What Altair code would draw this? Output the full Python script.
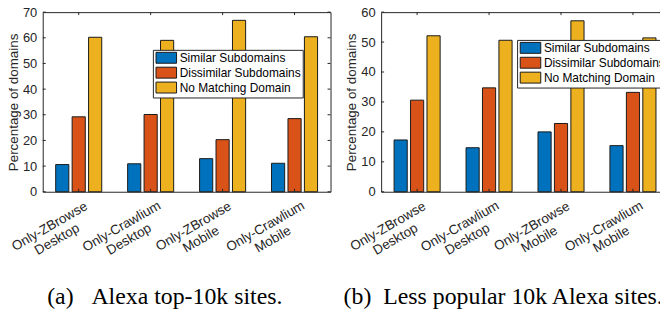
import altair as alt
import pandas as pd

groups = ["Only-ZBrowse\nDesktop", "Only-Crawlium\nDesktop", "Only-ZBrowse\nMobile", "Only-Crawlium\nMobile"]
series = ["Similar Subdomains", "Dissimilar Subdomains", "No Matching Domain"]
colors = ["#0072BD", "#D95319", "#EDB120"]

top10k_similar = [10.6, 10.9, 12.9, 11.1]
top10k_dissimilar = [29.2, 30.1, 20.3, 28.5]
top10k_nomatch = [60.2, 59.0, 66.8, 60.4]

less_similar = [17.3, 14.7, 20.0, 15.4]
less_dissimilar = [30.6, 34.7, 22.8, 33.2]
less_nomatch = [52.1, 50.6, 57.1, 51.4]

yticks_a = [0, 10, 20, 30, 40, 50, 60, 70]
yticks_b = [0, 10, 20, 30, 40, 50, 60]

W, H = 290, 181
TXT = "#262626"
FONT = "Liberation Sans"
NB = "\u00a0"


def make_df(a, b, c):
    rows = []
    for i, g in enumerate(groups):
        for s, v in zip(series, [a[i], b[i], c[i]]):
            rows.append({"group": g, "series": s, "value": v})
    return pd.DataFrame(rows)


def panel(df, yticks, ymax, caption, lx, ly, cdx):
    xscale = alt.Scale(domain=groups, paddingInner=0.36, paddingOuter=0.18)
    yscale = alt.Scale(domain=[0, ymax], nice=False)
    yaxis = alt.Axis(title="Percentage of domains", values=yticks, tickSize=0, domain=False,
                     grid=False, labelPadding=6, labelFontSize=13, labelColor=TXT,
                     labelOverlap=False, labelFont=FONT, titleFont=FONT,
                     titleFontSize=13.5, titleColor=TXT,
                     titleFontWeight="normal", titlePadding=2)
    bars = alt.Chart(df).mark_bar(stroke="#1a1a1a", strokeWidth=1).encode(
        x=alt.X("group:N", scale=xscale, sort=groups, axis=None),
        xOffset=alt.XOffset("series:N", sort=series,
                            scale=alt.Scale(domain=series, paddingInner=0.2, paddingOuter=0)),
        y=alt.Y("value:Q", scale=yscale, axis=yaxis),
        color=alt.Color("series:N", sort=series, scale=alt.Scale(domain=series, range=colors),
                        legend=alt.Legend(title=None, orient="none", legendX=lx, legendY=ly,
                                          fillColor="white", strokeColor=TXT, padding=1.5,
                                          symbolType="M-1.725,-0.917H1.725V0.917H-1.725Z",
                                          symbolSize=144, symbolOffset=5.5,
                                          symbolStrokeColor="#1a1a1a", symbolStrokeWidth=1,
                                          symbolOpacity=1, labelFontSize=12, labelFont=FONT,
                                          labelColor="black", labelOffset=7, rowPadding=-2,
                                          labelLimit=300)),
    )
    tdf = pd.DataFrame({"t": yticks})
    tl = alt.Chart(tdf).mark_rule(color=TXT, strokeWidth=1).encode(
        y=alt.Y("t:Q", scale=yscale, axis=yaxis), x=alt.value(0), x2=alt.value(3))
    tr = alt.Chart(tdf).mark_rule(color=TXT, strokeWidth=1).encode(
        y=alt.Y("t:Q", scale=yscale, axis=yaxis), x=alt.value(W - 3), x2=alt.value(W))
    gdf = pd.DataFrame({"group": groups})
    tt = alt.Chart(gdf).mark_rule(color=TXT, strokeWidth=1).encode(
        x=alt.X("group:N", scale=xscale, sort=groups, axis=None), y=alt.value(0), y2=alt.value(3))
    tb = alt.Chart(gdf).mark_rule(color=TXT, strokeWidth=1).encode(
        x=alt.X("group:N", scale=xscale, sort=groups, axis=None), y=alt.value(H - 3), y2=alt.value(H))
    labels = alt.Chart(gdf).mark_text(
        angle=330, align="center", baseline="top", dx=-43, dy=0, xOffset=4.5, lineBreak="\n",
        lineHeight=15, fontSize=13.5, font=FONT, color=TXT
    ).encode(x=alt.X("group:N", scale=xscale, sort=groups, axis=None),
             y=alt.value(H + 7.5), text="group:N")
    return alt.layer(bars, tl, tr, tt, tb, labels).properties(
        width=W, height=H,
        title=alt.TitleParams(caption, orient="bottom", font="Liberation Serif", fontSize=24,
                              fontWeight="normal", color="black", offset=18, anchor="middle",
                              dx=cdx))


a = panel(make_df(top10k_similar, top10k_dissimilar, top10k_nomatch), yticks_a, 70,
          "(a)" + NB * 3 + "Alexa top-10k sites.", 111, 38, -22)
b = panel(make_df(less_similar, less_dissimilar, less_nomatch), yticks_b, 60,
          "(b)" + NB * 2 + "Less popular 10k Alexa sites.", 137, 28, -22)

chart = alt.hconcat(a, b, spacing=51, bounds="flush").resolve_scale(
    color="shared", y="independent"
).resolve_legend(color="independent").properties(
    padding={"top": -4, "left": -2, "right": -10, "bottom": 0}, background="white"
).configure_view(stroke=TXT, strokeWidth=1)

chart.save("out.html", embed_options={"renderer": "svg", "actions": False})
